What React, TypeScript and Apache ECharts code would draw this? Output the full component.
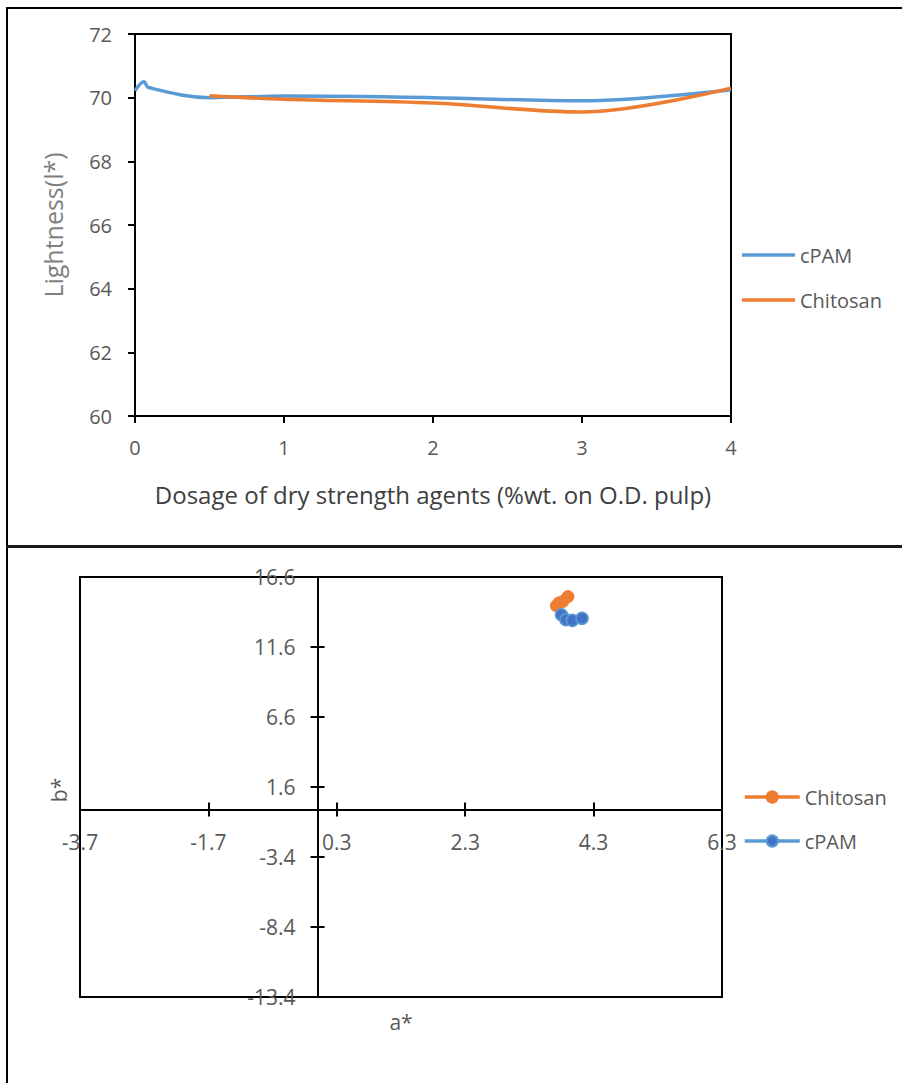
import React, { useEffect, useRef } from "react";
import * as echarts from "echarts";

const FONT = "'Open Sans', 'Noto Sans', sans-serif";
const LABEL = "#595959";

// ---- Top chart: Lightness vs dosage ----
const cpamDose = [0, 0.06, 0.09, 0.5, 1, 2, 3, 4];
const cpamL = [70.22, 70.5, 70.32, 70.0, 70.05, 70.0, 69.9, 70.25];
const chitosanDose = [0.5, 1, 2, 3, 4];
const chitosanL = [70.06, 69.95, 69.83, 69.55, 70.3];
const doseAxis = { min: 0, max: 4, step: 1 };
const lightAxis = { min: 60, max: 72, step: 2 };

// ---- Bottom chart: a* vs b* ----
const chitosanA = [3.72, 3.76, 3.82, 3.9];
const chitosanB = [14.55, 14.75, 14.85, 15.2];
const cpamA = [3.8, 3.87, 3.97, 4.12];
const cpamB = [13.9, 13.55, 13.5, 13.65];
const aAxis = { min: -3.7, max: 6.3, step: 2 };
const bAxis = { min: -13.4, max: 16.6, step: 5 };

const BLUE = "#5B9BD5";
const BLUE_DARK = "#4472C4";
const ORANGE = "#ED7D31";

const zip = (xs: number[], ys: number[]) => xs.map((x, i) => [x, ys[i]]);

function topOption(): any {
  return {
    animation: false,
    textStyle: { fontFamily: FONT },
    grid: {
      left: 135, top: 34, width: 596, height: 382,
      show: true, borderColor: "#000", borderWidth: 2, backgroundColor: "transparent",
    },
    xAxis: {
      type: "value", min: doseAxis.min, max: doseAxis.max, interval: doseAxis.step,
      axisLine: { onZero: false, lineStyle: { color: "#000", width: 2 } },
      axisTick: { show: true, length: 7, lineStyle: { color: "#000", width: 2 } },
      axisLabel: { margin: 21, color: LABEL, fontSize: 20, fontFamily: FONT },
      splitLine: { show: false },
    },
    yAxis: {
      type: "value", min: lightAxis.min, max: lightAxis.max, interval: lightAxis.step,
      axisLine: { show: true, onZero: false, lineStyle: { color: "#000", width: 2 } },
      axisTick: { show: true, length: 7, lineStyle: { color: "#000", width: 2 } },
      axisLabel: { margin: 23, color: LABEL, fontSize: 20, fontFamily: FONT },
      splitLine: { show: false },
    },
    legend: {
      orient: "vertical", left: 737, top: 240, itemWidth: 53, itemHeight: 3.5, itemGap: 25,
      icon: "rect",
      textStyle: { color: LABEL, fontSize: 20, fontFamily: FONT },
      data: ["cPAM", "Chitosan"],
    },
    graphic: [
      {
        type: "text", x: 433, y: 494,
        style: {
          text: "Dosage of dry strength agents (%wt. on O.D. pulp)",
          fill: "#404040", font: `24px ${FONT}`, align: "center", verticalAlign: "middle",
        },
      },
      {
        type: "text", x: 53, y: 225, rotation: Math.PI / 2,
        style: {
          text: "Lightness(l*)", fill: "#7f7f7f", font: `25px ${FONT}`,
          align: "center", verticalAlign: "middle",
        },
      },
    ],
    series: [
      {
        name: "cPAM", type: "line", data: zip(cpamDose, cpamL), smooth: 0.35,
        symbol: "none", lineStyle: { color: BLUE, width: 3.5 }, itemStyle: { color: BLUE },
      },
      {
        name: "Chitosan", type: "line", data: zip(chitosanDose, chitosanL), smooth: 0.35,
        symbol: "none", lineStyle: { color: ORANGE, width: 3.5 }, itemStyle: { color: ORANGE },
      },
    ],
  };
}

function bottomOption(): any {
  const gridW = 642;
  const gridH = 420;
  // place the crossing axes at a* = 0 and b* = 0 via the axis scales
  const xOffset = -((0 - bAxis.min) / (bAxis.max - bAxis.min)) * gridH;
  const yOffset = -((0 - aAxis.min) / (aAxis.max - aAxis.min)) * gridW;
  const fmt = (v: number) => v.toFixed(1);
  const xBase = {
    type: "value", min: aAxis.min, max: aAxis.max, interval: aAxis.step,
    position: "bottom", offset: xOffset, splitLine: { show: false },
  };
  const yBase = {
    type: "value", min: bAxis.min, max: bAxis.max, interval: bAxis.step,
    position: "left", offset: yOffset, splitLine: { show: false },
  };
  return {
    animation: false,
    textStyle: { fontFamily: FONT },
    grid: {
      left: 80, top: 31, width: gridW, height: gridH,
      show: true, borderColor: "#000", borderWidth: 2, backgroundColor: "transparent",
    },
    xAxis: [
      {
        ...xBase,
        axisLine: { show: true, onZero: false, lineStyle: { color: "#000", width: 2 } },
        axisTick: { show: true, length: 7, lineStyle: { color: "#000", width: 2 } },
        axisLabel: { margin: 22, color: LABEL, fontSize: 21, fontFamily: FONT, formatter: fmt, showMinLabel: true, showMaxLabel: true },
      },
      {
        ...xBase,
        axisLine: { show: false, onZero: false },
        axisTick: { show: true, inside: true, length: 7, lineStyle: { color: "#000", width: 2 } },
        axisLabel: { show: false },
      },
    ],
    yAxis: [
      {
        ...yBase,
        axisLine: { show: true, onZero: false, lineStyle: { color: "#000", width: 2 } },
        axisTick: { show: true, length: 7, lineStyle: { color: "#000", width: 2 } },
        axisLabel: { margin: 22, color: LABEL, fontSize: 21, fontFamily: FONT, formatter: fmt, showMinLabel: true, showMaxLabel: true },
      },
      {
        ...yBase,
        axisLine: { show: false, onZero: false },
        axisTick: { show: true, inside: true, length: 7, lineStyle: { color: "#000", width: 2 } },
        axisLabel: { show: false },
      },
    ],
    legend: {
      orient: "vertical", left: 738, top: 236, itemWidth: 55, itemHeight: 14, itemGap: 24,
      lineStyle: { width: 3.5 },
      textStyle: { color: LABEL, fontSize: 20, fontFamily: FONT },
      data: ["Chitosan", "cPAM"],
    },
    graphic: [
      {
        type: "text", x: 401, y: 476,
        style: { text: "a*", fill: LABEL, font: `21px ${FONT}`, align: "center", verticalAlign: "middle" },
      },
      {
        type: "text", x: 59, y: 244, rotation: Math.PI / 2,
        style: { text: "b*", fill: LABEL, font: `21px ${FONT}`, align: "center", verticalAlign: "middle" },
      },
    ],
    series: [
      {
        name: "Chitosan", type: "line", data: zip(chitosanA, chitosanB),
        xAxisIndex: 0, yAxisIndex: 0,
        symbol: "circle", symbolSize: 12,
        lineStyle: { color: ORANGE, width: 3.5 },
        itemStyle: { color: ORANGE, borderColor: ORANGE, borderWidth: 1 },
      },
      {
        name: "cPAM", type: "line", data: zip(cpamA, cpamB),
        xAxisIndex: 0, yAxisIndex: 0,
        symbol: "circle", symbolSize: 12,
        lineStyle: { color: BLUE, width: 3.5 },
        itemStyle: { color: BLUE_DARK, borderColor: BLUE, borderWidth: 1.5 },
      },
    ],
  };
}

export default function App() {
  const topRef = useRef<HTMLDivElement>(null);
  const botRef = useRef<HTMLDivElement>(null);
  useEffect(() => {
    const c1 = echarts.init(topRef.current!, null, { renderer: "svg" });
    c1.setOption(topOption());
    const c2 = echarts.init(botRef.current!, null, { renderer: "svg" });
    c2.setOption(bottomOption());
    return () => {
      c1.dispose();
      c2.dispose();
    };
  }, []);
  return (
    <div style={{ position: "absolute", left: 0, top: 0, width: 902, height: 1083, background: "#fff", overflow: "hidden" }}>
      <div ref={topRef} style={{ position: "absolute", left: 0, top: 0, width: 902, height: 546 }} />
      <div ref={botRef} style={{ position: "absolute", left: 0, top: 546, width: 902, height: 537 }} />
      <div style={{ position: "absolute", left: 6, top: 7, width: 896, height: 2, background: "#000" }} />
      <div style={{ position: "absolute", left: 6, top: 7, width: 2, height: 1076, background: "#000" }} />
      <div style={{ position: "absolute", left: 6, top: 545, width: 896, height: 3, background: "#1a1a1a" }} />
    </div>
  );
}
